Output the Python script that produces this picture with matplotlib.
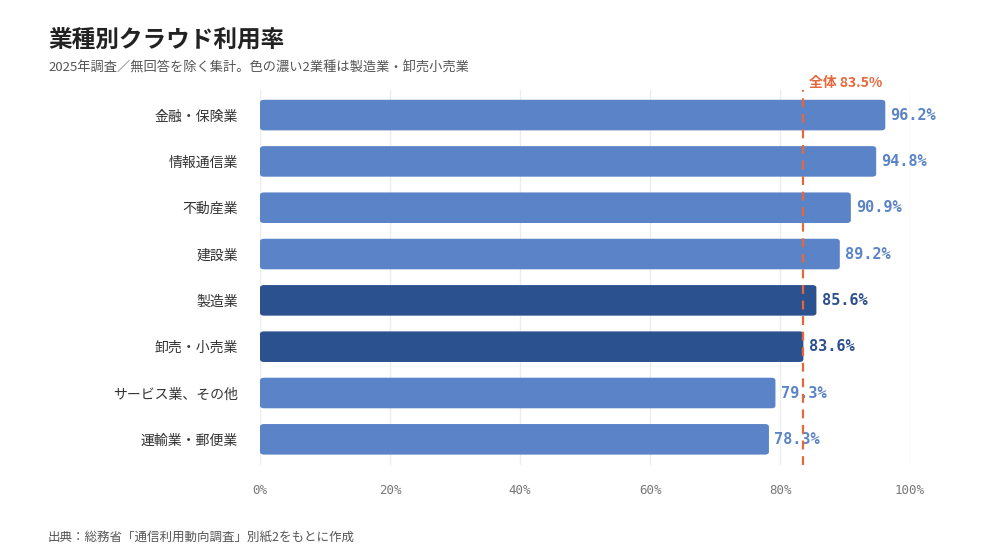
import matplotlib.pyplot as plt
from matplotlib.patches import FancyBboxPatch

plt.rcParams['font.family'] = ['Noto Sans CJK JP', 'DejaVu Sans']

industries = ['金融・保険業', '情報通信業', '不動産業', '建設業', '製造業',
              '卸売・小売業', 'サービス業、その他', '運輸業・郵便業']
rates = [96.2, 94.8, 90.9, 89.2, 85.6, 83.6, 79.3, 78.3]
highlight = [False, False, False, False, True, True, False, False]
overall = 83.5

light = '#5b84c8'
dark = '#2c518f'
accent = '#e8673a'

fig = plt.figure(figsize=(10, 5.6), dpi=100)
ax = fig.add_axes([0.26, 0.17, 0.65, 0.67])

ys = list(range(len(industries)))[::-1]
for y, v, h in zip(ys, rates, highlight):
    c = dark if h else light
    ax.add_patch(FancyBboxPatch((0, y - 0.33), v, 0.66,
                                boxstyle='round,pad=0,rounding_size=0.6',
                                mutation_aspect=0.1, fc=c, ec='none', zorder=2))
    ax.text(v + 0.8, y, f'{v:.1f}%', va='center', ha='left', fontsize=11,
            fontweight='bold', color=c, family='DejaVu Sans Mono')

ax.axvline(overall, color=accent, ls=(0, (4, 3)), lw=1.6, zorder=3)
ax.text(overall + 1, 7.55, f'全体 {overall}%', color=accent, fontsize=10,
        fontweight='bold', ha='left', va='bottom')

ax.set_xlim(0, 100)
ax.set_ylim(-0.55, 7.55)
ax.set_xticks(range(0, 101, 20))
ax.set_xticklabels([f'{t}%' for t in range(0, 101, 20)], family='DejaVu Sans Mono',
                   fontsize=9, color='#777777')
ax.set_yticks(ys)
ax.set_yticklabels(industries, fontsize=10, color='#333333')
ax.tick_params(length=0, pad=14)
ax.tick_params(axis='y', pad=16)
ax.grid(axis='x', color='#ebebf0', lw=1, zorder=0)
for s in ax.spines.values():
    s.set_visible(False)

fig.text(0.048, 0.915, '業種別クラウド利用率', fontsize=17, fontweight='bold', color='#222222')
fig.text(0.048, 0.872, '2025年調査／無回答を除く集計。色の濃い2業種は製造業・卸売小売業',
         fontsize=9.5, color='#555555')
fig.text(0.048, 0.035, '出典：総務省「通信利用動向調査」別紙2をもとに作成', fontsize=9, color='#555555')

fig.savefig('out.png')
